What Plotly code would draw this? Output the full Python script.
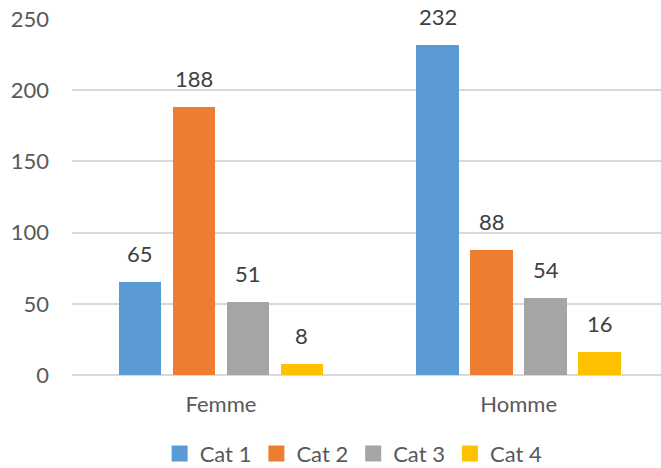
import plotly.graph_objects as go

# Data
categories = ["Femme", "Homme"]
series_names = ["Cat 1", "Cat 2", "Cat 3", "Cat 4"]
values = {
    "Cat 1": [65, 232],
    "Cat 2": [188, 88],
    "Cat 3": [51, 54],
    "Cat 4": [8, 16],
}
colors = ["#5B9BD5", "#ED7D31", "#A5A5A5", "#FFC000"]
y_ticks = [0, 50, 100, 150, 200, 250]

FONT = "Lato"
FS = 22
pitch = 0.1814      # spacing between bars in a group (category units)
bar_w = 0.1428      # bar width (category units)
n = len(series_names)

fig = go.Figure()
annotations = []
for j, (name, col) in enumerate(zip(series_names, colors)):
    offset = (j - (n - 1) / 2) * pitch
    xs = [i + offset for i in range(len(categories))]
    ys = values[name]
    fig.add_trace(go.Bar(
        x=xs, y=ys, name=name, width=bar_w,
        marker=dict(color=col, line=dict(width=0)),
        hoverinfo="skip", showlegend=False, legendgroup=name,
    ))
    # square legend key
    fig.add_trace(go.Scatter(
        x=[None], y=[None], mode="markers", name=name, legendgroup=name,
        marker=dict(symbol="square", size=16, color=col, line=dict(width=0)),
        hoverinfo="skip",
    ))
    for x, y in zip(xs, ys):
        annotations.append(dict(
            x=x, y=y, text=str(y), showarrow=False,
            yanchor="bottom", yshift=13,
            font=dict(family=FONT, size=FS, color="#404040"),
        ))

fig.update_layout(
    width=661, height=468,
    margin=dict(l=72, r=0, t=19, b=93, autoexpand=False),
    paper_bgcolor="white", plot_bgcolor="white",
    showlegend=True,
    legend=dict(
        orientation="h", xref="container", yref="paper",
        x=0.535, xanchor="center", y=-0.221, yanchor="middle",
        font=dict(family=FONT, size=FS, color="#595959"),
        traceorder="normal", itemwidth=30,
    ),
    annotations=annotations,
    bargap=0,
)
fig.update_xaxes(
    range=[-0.5, 1.478],
    tickvals=list(range(len(categories))), ticktext=categories,
    showgrid=False, zeroline=False, showline=False, ticks="",
    ticklabelstandoff=14,
    tickfont=dict(family=FONT, size=FS, color="#595959"),
)
fig.update_yaxes(
    range=[0, 250], tickvals=y_ticks,
    showgrid=True, gridcolor="#D9D9D9", gridwidth=1.5,
    zeroline=True, zerolinecolor="#D9D9D9", zerolinewidth=1.5,
    showline=False, ticks="", ticklabelstandoff=22,
    tickfont=dict(family=FONT, size=FS, color="#595959"),
)

fig.write_html("out.html")
